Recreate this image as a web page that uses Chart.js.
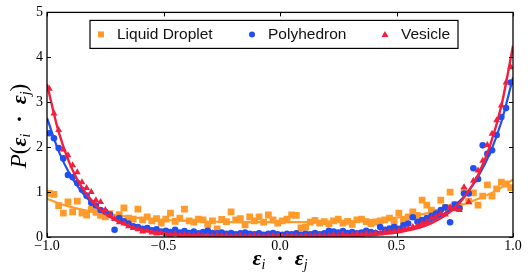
<!DOCTYPE html>
<html>
<head>
<meta charset="utf-8">
<script src="https://cdn.jsdelivr.net/npm/chart.js@4.4.1/dist/chart.umd.min.js"></script>
<style>
  html, body { margin: 0; padding: 0; background: #fff; }
</style>
</head>
<body>
<canvas id="chart" width="528" height="280"></canvas>
<script>
// bin centres of the histogram
let bins = [-0.99,-0.97,-0.95,-0.93,-0.91,-0.89,-0.87,-0.85,-0.83,-0.81,
  -0.79,-0.77,-0.75,-0.73,-0.71,-0.69,-0.67,-0.65,-0.63,-0.61,
  -0.59,-0.57,-0.55,-0.53,-0.51,-0.49,-0.47,-0.45,-0.43,-0.41,
  -0.39,-0.37,-0.35,-0.33,-0.31,-0.29,-0.27,-0.25,-0.23,-0.21,
  -0.19,-0.17,-0.15,-0.13,-0.11,-0.09,-0.07,-0.05,-0.03,-0.01,
  0.01,0.03,0.05,0.07,0.09,0.11,0.13,0.15,0.17,0.19,
  0.21,0.23,0.25,0.27,0.29,0.31,0.33,0.35,0.37,0.39,
  0.41,0.43,0.45,0.47,0.49,0.51,0.53,0.55,0.57,0.59,
  0.61,0.63,0.65,0.67,0.69,0.71,0.73,0.75,0.77,0.79,
  0.81,0.83,0.85,0.87,0.89,0.91,0.93,0.95,0.97,0.99]

let droplet = [0.97,0.95,0.70,0.53,0.78,0.56,0.80,0.53,0.49,0.62,
  0.55,0.48,0.45,0.52,0.44,0.50,0.65,0.42,0.40,0.62,
  0.38,0.45,0.36,0.41,0.31,0.40,0.53,0.35,0.42,0.62,
  0.36,0.33,0.40,0.38,0.27,0.36,0.18,0.39,0.34,0.56,
  0.38,0.41,0.27,0.45,0.36,0.45,0.33,0.49,0.38,0.31,
  0.36,0.40,0.49,0.48,0.20,0.22,0.33,0.37,0.31,0.34,
  0.29,0.36,0.40,0.31,0.35,0.28,0.38,0.40,0.34,0.30,
  0.33,0.36,0.38,0.42,0.33,0.53,0.36,0.45,0.56,0.48,
  0.82,0.71,0.60,0.55,0.82,0.66,1.00,0.72,0.68,1.02,
  0.80,0.98,0.71,0.91,1.16,0.91,1.07,1.22,1.18,1.10]

let polyhedron = [2.31,2.20,1.98,1.75,1.38,1.33,1.20,1.05,0.92,0.76,
  0.70,0.60,0.56,0.50,0.16,0.42,0.35,0.30,0.24,0.22,
  0.18,0.20,0.15,0.17,0.12,0.14,0.11,0.16,0.10,0.13,
  0.09,0.12,0.08,0.11,0.14,0.09,0.08,0.10,0.07,0.09,
  0.06,0.08,0.10,0.07,0.06,0.08,0.05,0.07,0.09,0.06,
  0.05,0.07,0.06,0.08,0.05,0.07,0.06,0.09,0.06,0.08,
  0.14,0.12,0.10,0.13,0.09,0.11,0.08,0.10,0.14,0.11,
  0.09,0.22,0.16,0.19,0.22,0.18,0.26,0.30,0.44,0.34,
  0.38,0.42,0.47,0.52,0.60,0.66,0.33,0.72,0.64,0.97,
  0.97,1.53,1.29,2.04,1.85,1.93,2.27,2.67,2.87,3.44]

let vesicle = [3.30,2.75,2.38,1.95,1.82,1.60,1.44,1.22,1.09,1.00,
  0.82,0.78,0.60,0.49,0.40,0.33,0.30,0.24,0.20,0.17,
  0.12,0.14,0.10,0.08,0.09,0.06,0.05,0.07,0.04,0.05,
  0.04,0.03,0.05,0.02,0.03,0.02,0.04,0.02,0.03,0.01,
  0.02,0.03,0.01,0.02,0.03,0.02,0.01,0.02,0.03,0.02,
  0.01,0.02,0.03,0.02,0.01,0.03,0.02,0.02,0.04,0.02,
  0.03,0.05,0.03,0.06,0.04,0.05,0.07,0.05,0.08,0.06,
  0.09,0.08,0.11,0.13,0.12,0.15,0.17,0.19,0.22,0.25,
  0.30,0.34,0.42,0.45,0.52,0.50,0.66,0.62,0.60,1.11,
  0.78,1.25,1.48,1.70,2.05,2.30,2.60,2.93,3.44,3.78]

// fitted curves
let fitX = [-1.00,-0.95,-0.90,-0.85,-0.80,-0.75,-0.70,-0.65,-0.60,-0.55,
  -0.50,-0.45,-0.40,-0.35,-0.30,-0.25,-0.20,-0.15,-0.10,-0.05,
  0.00,0.05,0.10,0.15,0.20,0.25,0.30,0.35,0.40,0.45,
  0.50,0.55,0.60,0.65,0.70,0.75,0.80,0.85,0.90,0.95,1.00]
let dropletFit = [0.85,0.75,0.67,0.61,0.56,0.52,0.48,0.45,0.42,0.40,
  0.38,0.37,0.36,0.35,0.34,0.34,0.33,0.33,0.33,0.33,
  0.33,0.33,0.33,0.33,0.34,0.34,0.35,0.36,0.38,0.40,
  0.43,0.46,0.50,0.55,0.60,0.67,0.75,0.85,0.96,1.10,1.28]
let polyhedronFit = [2.65,1.91,1.38,1.00,0.72,0.52,0.37,0.27,0.20,0.15,
  0.12,0.10,0.09,0.08,0.08,0.07,0.07,0.07,0.07,0.07,
  0.07,0.07,0.07,0.07,0.07,0.08,0.08,0.09,0.10,0.12,
  0.15,0.19,0.26,0.36,0.50,0.70,0.96,1.34,1.85,2.56,3.55]
let vesicleFit = [3.40,2.34,1.60,1.10,0.76,0.52,0.36,0.25,0.17,0.12,
  0.08,0.05,0.04,0.03,0.02,0.02,0.02,0.02,0.02,0.02,
  0.02,0.02,0.02,0.02,0.02,0.02,0.02,0.03,0.05,0.07,
  0.10,0.15,0.21,0.31,0.45,0.65,0.95,1.38,2.01,2.92,4.25]

let xTicks = [-1, -0.5, 0, 0.5, 1]
let yTicks = [0, 1, 2, 3, 4, 5]
let names = ['Liquid Droplet', 'Polyhedron', 'Vesicle']

const ORANGE = '#ff9a2b'
const BLUE = '#1f4ff2'
const RED = '#f2203e'
const SERIF = '"Liberation Serif", "DejaVu Serif", serif'

let pts = (xs, ys) => xs.map((x, i) => ({x: x, y: ys[i]}))

// draw a line of math text made of [text, font, dy] pieces
function mathText(ctx, parts, x, y) {
  let w = 0
  parts.forEach(p => { ctx.font = p[1]; w += ctx.measureText(p[0]).width })
  let cx = x - w / 2
  parts.forEach(p => {
    ctx.font = p[1]
    ctx.fillText(p[0], cx, y + (p[2] || 0))
    cx += ctx.measureText(p[0]).width
  })
}

function marker(ctx, style, x, y, color) {
  ctx.fillStyle = color
  ctx.beginPath()
  if (style == 'rect') {
    ctx.rect(x - 3, y - 3, 6, 6)
  } else if (style == 'circle') {
    ctx.arc(x, y, 3, 0, Math.PI * 2)
  } else {
    ctx.moveTo(x, y - 3.5)
    ctx.lineTo(x + 3.5, y + 2.5)
    ctx.lineTo(x - 3.5, y + 2.5)
    ctx.closePath()
  }
  ctx.fill()
}

const decor = {
  id: 'decor',
  afterDatasetsDraw(chart) {
    let {ctx, chartArea: a, scales: {x, y}} = chart
    ctx.save()
    ctx.strokeStyle = '#000'
    ctx.lineWidth = 1
    ctx.beginPath()
    xTicks.forEach(v => {
      let px = Math.round(x.getPixelForValue(v)) + 0.5
      ctx.moveTo(px, a.bottom); ctx.lineTo(px, a.bottom - 4)
      ctx.moveTo(px, a.top); ctx.lineTo(px, a.top + 4)
    })
    yTicks.forEach(v => {
      let py = Math.round(y.getPixelForValue(v)) + 0.5
      ctx.moveTo(a.left, py); ctx.lineTo(a.left + 4, py)
      ctx.moveTo(a.right, py); ctx.lineTo(a.right - 4, py)
    })
    ctx.stroke()
    ctx.lineWidth = 1.3
    ctx.strokeRect(a.left, a.top, a.right - a.left, a.bottom - a.top)

    // legend box
    let lx = a.left + 43, ly = a.top + 8
    ctx.fillStyle = '#fff'
    ctx.fillRect(lx, ly, 368, 28)
    ctx.lineWidth = 1.2
    ctx.strokeStyle = '#000'
    ctx.strokeRect(lx, ly, 368, 28)
    let styles = ['rect', 'circle', 'triangle']
    let colors = [ORANGE, BLUE, RED]
    let offs = [11, 162, 295]
    ctx.font = '15.5px "Liberation Sans", Arial, sans-serif'
    ctx.textBaseline = 'middle'
    names.forEach((n, i) => {
      marker(ctx, styles[i], lx + offs[i], ly + 14, colors[i])
      ctx.fillStyle = '#111'
      ctx.fillText(n, lx + offs[i] + 16, ly + 14.5)
    })

    // axis titles
    ctx.fillStyle = '#000'
    ctx.textBaseline = 'alphabetic'
    mathText(ctx, [
      ['ε', 'bold italic 22px ' + SERIF],
      ['i', 'italic 14px ' + SERIF, 4],
      ['  ·  ', 'bold 22px ' + SERIF],
      ['ε', 'bold italic 22px ' + SERIF],
      ['j', 'italic 14px ' + SERIF, 4]
    ], (a.left + a.right) / 2, 265)
    ctx.translate(26, 126)
    ctx.rotate(-Math.PI / 2)
    mathText(ctx, [
      ['P', 'italic 23px ' + SERIF],
      ['(', '23px ' + SERIF],
      ['ε', 'bold italic 22px ' + SERIF],
      ['i', 'italic 14px ' + SERIF, 4],
      ['  ·  ', 'bold 22px ' + SERIF],
      ['ε', 'bold italic 22px ' + SERIF],
      ['j', 'italic 14px ' + SERIF, 4],
      [')', '23px ' + SERIF]
    ], 0, 0)
    ctx.restore()
  }
}

let chart = new Chart(document.querySelector('#chart'), {
  type: 'scatter',
  data: {
    datasets: [
      {label: names[0], data: pts(bins, droplet), pointStyle: 'rect', pointRadius: 4.8,
        backgroundColor: ORANGE, borderWidth: 0, order: 6},
      {label: names[0] + ' fit', type: 'line', data: pts(fitX, dropletFit), borderColor: ORANGE,
        borderWidth: 2.2, pointRadius: 0, cubicInterpolationMode: 'monotone', order: 5},
      {label: names[1], data: pts(bins, polyhedron), pointStyle: 'circle', pointRadius: 3.3,
        backgroundColor: BLUE, borderWidth: 0, order: 4},
      {label: names[1] + ' fit', type: 'line', data: pts(fitX, polyhedronFit), borderColor: BLUE,
        borderWidth: 2.2, pointRadius: 0, cubicInterpolationMode: 'monotone', order: 3},
      {label: names[2], data: pts(bins, vesicle), pointStyle: 'triangle', pointRadius: 4,
        backgroundColor: RED, borderWidth: 0, order: 2},
      {label: names[2] + ' fit', type: 'line', data: pts(fitX, vesicleFit), borderColor: RED,
        borderWidth: 2.4, pointRadius: 0, cubicInterpolationMode: 'monotone', order: 1}
    ]
  },
  options: {
    responsive: false,
    animation: false,
    layout: {padding: {top: 12, right: 15, left: 0, bottom: 0}},
    plugins: {legend: {display: false}, tooltip: {enabled: false}},
    scales: {
      x: {
        type: 'linear', min: -1, max: 1,
        afterBuildTicks: s => { s.ticks = xTicks.map(v => ({value: v})) },
        afterFit: s => { s.height = 43 },
        grid: {display: false, drawTicks: false},
        border: {display: false},
        ticks: {
          padding: 1, maxRotation: 0, color: '#000',
          font: {family: SERIF, size: 14},
          callback: v => v.toFixed(1).replace('-', '\u2212')
        }
      },
      y: {
        min: 0, max: 5,
        afterBuildTicks: s => { s.ticks = yTicks.map(v => ({value: v})) },
        afterFit: s => { s.width = 47 },
        grid: {display: false, drawTicks: false},
        border: {display: false},
        ticks: {
          padding: 4, color: '#000',
          font: {family: SERIF, size: 14},
          callback: v => String(v)
        }
      }
    }
  },
  plugins: [decor]
})
</script>
</body>
</html>
